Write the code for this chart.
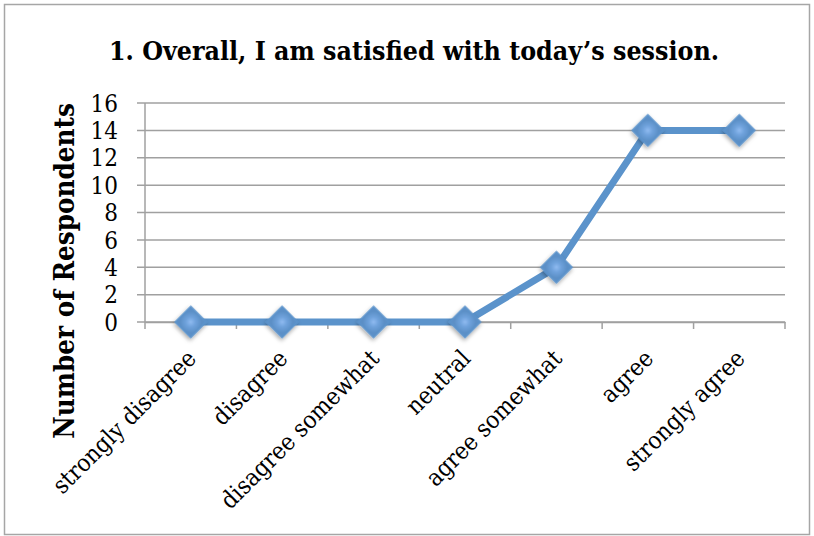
<!DOCTYPE html>
<html>
<head>
<meta charset="utf-8">
<script src="https://cdn.jsdelivr.net/npm/d3@7"></script>
<style>
  body { margin: 0; background: #fff; }
  text { font-family: 'DejaVu Serif Condensed', 'DejaVu Serif', serif; font-stretch: condensed; fill: #000; }
</style>
</head>
<body>
<div id="chart"></div>
<script>
const categories = [
  'strongly disagree',
  'disagree',
  'disagree somewhat',
  'neutral',
  'agree somewhat',
  'agree',
  'strongly agree'
]
const respondents = [0, 0, 0, 0, 4, 14, 14]
const yTicks = [0, 2, 4, 6, 8, 10, 12, 14, 16]
const title = '1. Overall, I am satisfied with today\u2019s session.'
const yTitle = 'Number of Respondents'

;(function init() {
  const width = 814
  const height = 536
  const lineColor = '#5b93cb'

  const svg = d3
    .select('#chart')
    .append('svg')
    .attr('width', width)
    .attr('height', height)

  svg
    .append('rect')
    .attr('x', 4.5)
    .attr('y', 4.5)
    .attr('width', 805)
    .attr('height', 530)
    .attr('fill', '#fff')
    .attr('stroke', '#a6a6a6')
    .attr('stroke-width', 1.5)

  const defs = svg.append('defs')
  const shadow = defs.append('filter').attr('id', 'shadow')
    .attr('x', '-50%').attr('y', '-50%').attr('width', '200%').attr('height', '200%')
  shadow.append('feDropShadow')
    .attr('dx', 1).attr('dy', 2).attr('stdDeviation', 2)
    .attr('flood-color', '#000').attr('flood-opacity', 0.35)
  const grad = defs.append('radialGradient').attr('id', 'markerFill')
  grad.append('stop').attr('offset', '0%').attr('stop-color', '#8fbaf0')
  grad.append('stop').attr('offset', '45%').attr('stop-color', '#6fa2dc')
  grad.append('stop').attr('offset', '100%').attr('stop-color', '#5b8fc6')

  const xScale = d3
    .scaleBand()
    .domain(categories)
    .range([145, 785])

  const yScale = d3
    .scaleLinear()
    .domain([0, 16])
    .range([322, 103])

  // gridlines
  svg
    .append('g')
    .selectAll('line')
    .data(yTicks)
    .enter()
    .append('line')
    .attr('x1', 137)
    .attr('x2', 785)
    .attr('y1', (d) => yScale(d))
    .attr('y2', (d) => yScale(d))
    .attr('stroke', '#a0a0a0')
    .attr('stroke-width', 1.5)

  // y axis line
  svg
    .append('line')
    .attr('x1', 145)
    .attr('x2', 145)
    .attr('y1', yScale(16))
    .attr('y2', yScale(0))
    .attr('stroke', '#a0a0a0')
    .attr('stroke-width', 1.5)

  svg
    .append('g')
    .selectAll('text')
    .data(yTicks)
    .enter()
    .append('text')
    .attr('x', 118)
    .attr('y', (d) => yScale(d))
    .attr('dy', '0.36em')
    .attr('text-anchor', 'end')
    .style('font-size', '24px')
    .text((d) => d)

  // x axis
  const xAxis = d3
    .axisBottom(xScale)
    .tickSize(0)
    .tickFormat('')
  svg
    .append('g')
    .attr('transform', 'translate(0,' + yScale(0) + ')')
    .call(xAxis)
    .call((g) => g.select('.domain').attr('stroke', '#a0a0a0').attr('stroke-width', 1.5))

  const bounds = categories.map((c) => xScale(c)).concat([785])
  svg
    .append('g')
    .selectAll('line')
    .data(bounds)
    .enter()
    .append('line')
    .attr('x1', (d) => d)
    .attr('x2', (d) => d)
    .attr('y1', yScale(0))
    .attr('y2', yScale(0) + 7)
    .attr('stroke', '#a0a0a0')
    .attr('stroke-width', 1.5)

  svg
    .append('g')
    .selectAll('text')
    .data(categories)
    .enter()
    .append('text')
    .attr('transform', (d) =>
      'translate(' + (xScale(d) + xScale.bandwidth() / 2 + 1) + ',' + (yScale(0) + 32) + ') rotate(-45)')
    .attr('text-anchor', 'end')
    .attr('dy', '0.35em')
    .style('font-size', '24px')
    .text((d) => d)

  // line
  const line = d3
    .line()
    .x((d, i) => xScale(categories[i]) + xScale.bandwidth() / 2)
    .y((d) => yScale(d))

  svg
    .append('path')
    .datum(respondents)
    .attr('d', line)
    .attr('fill', 'none')
    .attr('stroke', lineColor)
    .attr('stroke-width', 7)
    .attr('stroke-linejoin', 'round')

  const symbol = d3.symbol().type(d3.symbolSquare).size(460)
  svg
    .append('g')
    .selectAll('path')
    .data(respondents)
    .enter()
    .append('path')
    .attr('d', symbol)
    .attr('transform', (d, i) =>
      'translate(' + (xScale(categories[i]) + xScale.bandwidth() / 2) + ',' + yScale(d) + ') rotate(45)')
    .attr('fill', 'url(#markerFill)')
    .attr('stroke', lineColor)
    .attr('stroke-width', 2)
    .attr('filter', 'url(#shadow)')

  svg
    .append('text')
    .attr('x', 414)
    .attr('y', 60)
    .attr('text-anchor', 'middle')
    .style('font-size', '26.5px')
    .style('font-weight', 'bold')
    .text(title)

  svg
    .append('text')
    .attr('transform', 'translate(74,271) rotate(-90)')
    .attr('text-anchor', 'middle')
    .style('font-size', '27.5px')
    .style('font-weight', 'bold')
    .text(yTitle)
})()
</script>
</body>
</html>
